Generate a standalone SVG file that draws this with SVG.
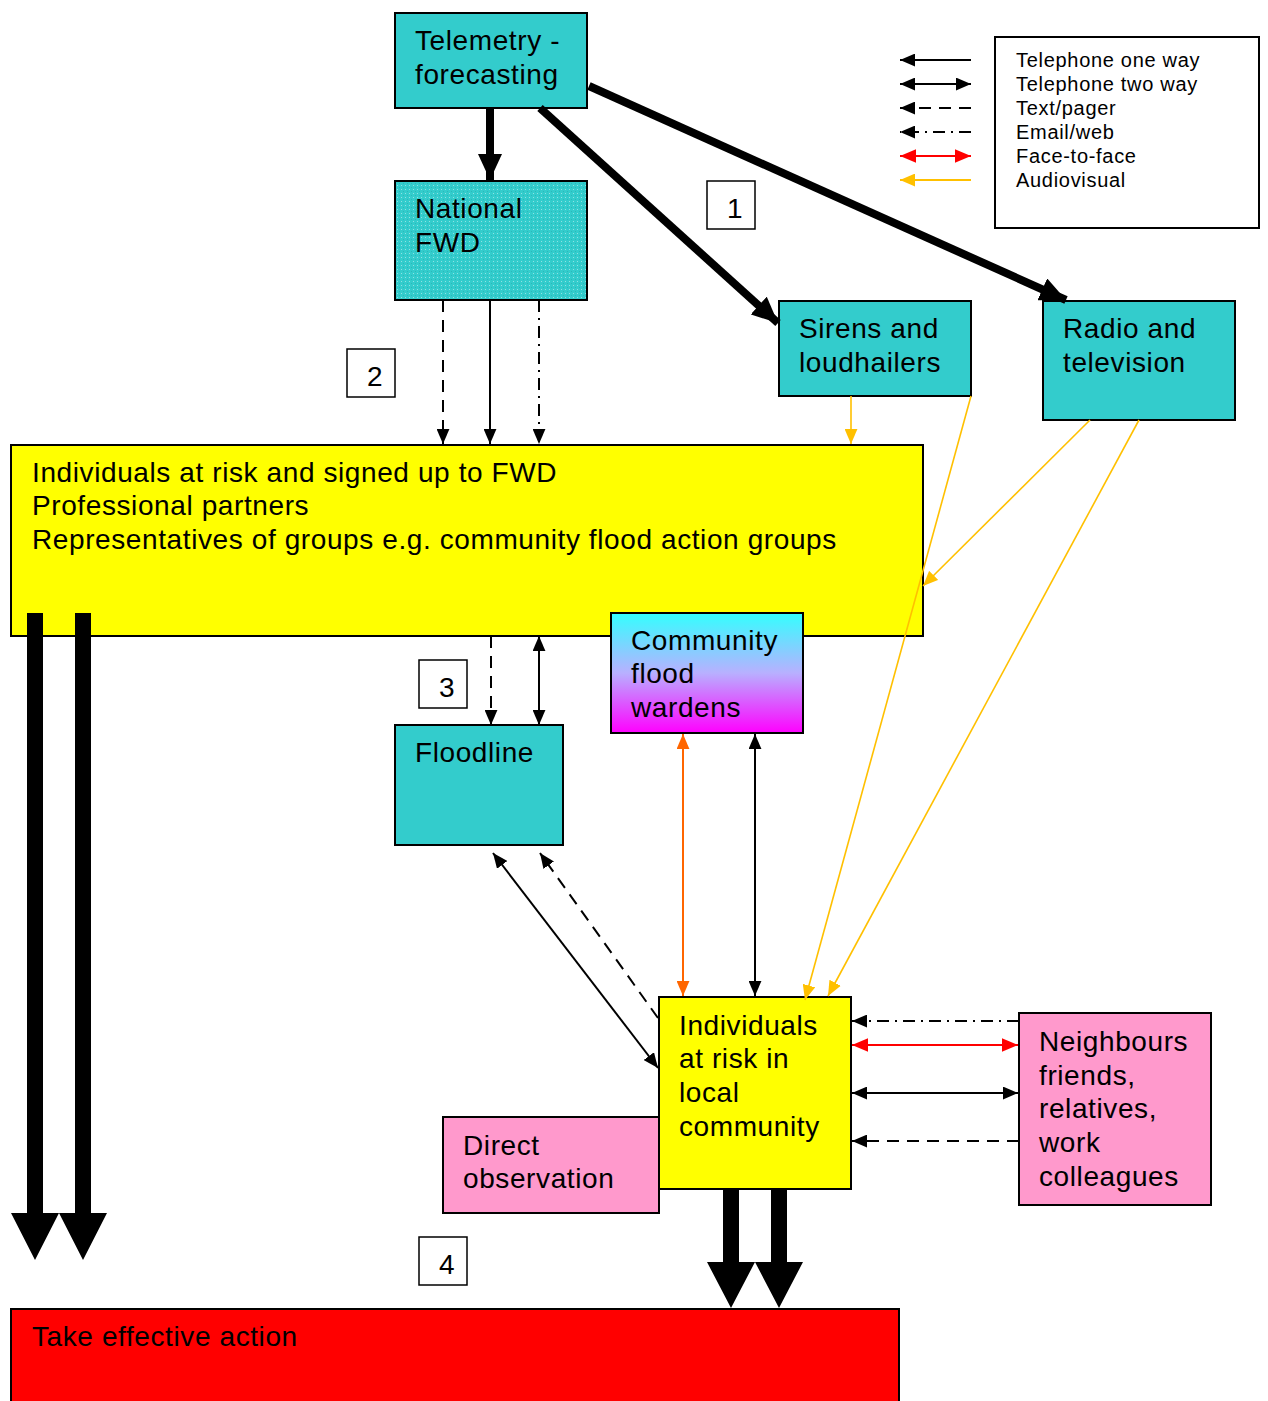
<svg xmlns="http://www.w3.org/2000/svg" width="1268" height="1401" viewBox="0 0 1268 1401">
<style>
text{font-family:"Liberation Sans",Arial,sans-serif;fill:#000}
.t{font-size:28px;letter-spacing:0.6px}
.lg{font-size:20px;letter-spacing:0.7px}
.box{stroke:#000;stroke-width:2}
.teal{fill:#33CCCC}
.yel{fill:#FFFF00}
.pink{fill:#FF99CC}
.num{fill:#fff;stroke:#000;stroke-width:1.5}
.ln{fill:none;stroke:#000;stroke-width:2}
.dash{stroke-dasharray:12,8}
.dd{stroke-dasharray:12,6,2,6}
.thick{fill:none;stroke:#000;stroke-width:8}
.av{fill:none;stroke:#FFC000;stroke-width:1.6}
</style>
<defs>
<marker id="ah" viewBox="0 0 14 12" markerWidth="15" markerHeight="13" refX="14" refY="6" orient="auto-start-reverse" markerUnits="userSpaceOnUse"><path d="M0,0L14,6L0,12z" fill="#000"/></marker>
<marker id="ahr" viewBox="0 0 14 12" markerWidth="16" markerHeight="14" refX="14" refY="6" orient="auto-start-reverse" markerUnits="userSpaceOnUse"><path d="M0,0L14,6L0,12z" fill="#FF0000"/></marker>
<marker id="aho" viewBox="0 0 14 12" markerWidth="15" markerHeight="13" refX="14" refY="6" orient="auto-start-reverse" markerUnits="userSpaceOnUse"><path d="M0,0L14,6L0,12z" fill="#FF6600"/></marker>
<marker id="ahy" viewBox="0 0 14 12" markerWidth="15" markerHeight="13" refX="14" refY="6" orient="auto-start-reverse" markerUnits="userSpaceOnUse"><path d="M0,0L14,6L0,12z" fill="#FFC000"/></marker>
<marker id="ahb" viewBox="0 0 26 24" markerWidth="26" markerHeight="24" refX="26" refY="12" orient="auto" markerUnits="userSpaceOnUse"><path d="M0,0L26,12L0,24z" fill="#000"/></marker>
<pattern id="dots" width="4" height="4" patternUnits="userSpaceOnUse"><rect width="4" height="4" fill="#33CCCC"/><rect x="1" y="1" width="1" height="1" fill="#8FE3E3"/><rect x="3" y="3" width="1" height="1" fill="#2AB8B8"/></pattern>
<linearGradient id="grad" x1="0" y1="0" x2="0" y2="1"><stop offset="0" stop-color="#33FFFF"/><stop offset="0.5" stop-color="#B8B0FF"/><stop offset="1" stop-color="#FF00FF"/></linearGradient>
</defs>
<rect width="1268" height="1401" fill="#fff"/>

<g id="legend">
<rect x="995" y="37" width="264" height="191" fill="#fff" stroke="#000" stroke-width="2"/>
<line x1="971" y1="60" x2="900" y2="60" class="ln" marker-end="url(#ah)"/>
<line x1="900" y1="84" x2="971" y2="84" class="ln" marker-start="url(#ah)" marker-end="url(#ah)"/>
<line x1="971" y1="108" x2="900" y2="108" class="ln dash" marker-end="url(#ah)"/>
<line x1="971" y1="132" x2="900" y2="132" class="ln dd" marker-end="url(#ah)"/>
<line x1="900" y1="156" x2="971" y2="156" fill="none" stroke="#FF0000" stroke-width="2" marker-start="url(#ahr)" marker-end="url(#ahr)"/>
<line x1="971" y1="180" x2="900" y2="180" fill="none" stroke="#FFC000" stroke-width="2" marker-end="url(#ahy)"/>
<text class="lg" x="1016" y="67">Telephone one way</text>
<text class="lg" x="1016" y="91">Telephone two way</text>
<text class="lg" x="1016" y="115">Text/pager</text>
<text class="lg" x="1016" y="139">Email/web</text>
<text class="lg" x="1016" y="163">Face-to-face</text>
<text class="lg" x="1016" y="187">Audiovisual</text>
</g>

<g id="telemetry"><rect x="395" y="13" width="192" height="95" class="box teal"/><text class="t" x="415" y="50">Telemetry -</text><text class="t" x="415" y="84">forecasting</text></g>
<g id="national"><rect x="395" y="181" width="192" height="119" class="box" fill="url(#dots)"/><text class="t" x="415" y="218">National</text><text class="t" x="415" y="252">FWD</text></g>
<g id="sirens"><rect x="779" y="301" width="192" height="95" class="box teal"/><text class="t" x="799" y="338">Sirens and</text><text class="t" x="799" y="372">loudhailers</text></g>
<g id="radio"><rect x="1043" y="301" width="192" height="119" class="box teal"/><text class="t" x="1063" y="338">Radio and</text><text class="t" x="1063" y="372">television</text></g>
<g id="signedup"><rect x="11" y="445" width="912" height="191" class="box yel"/><text class="t" x="32" y="482">Individuals at risk and signed up to FWD</text><text class="t" x="32" y="515">Professional partners</text><text class="t" x="32" y="549">Representatives of groups e.g. community flood action groups</text></g>
<g id="wardens"><rect x="611" y="613" width="192" height="120" class="box" fill="url(#grad)"/><text class="t" x="631" y="650">Community</text><text class="t" x="631" y="683">flood</text><text class="t" x="631" y="717">wardens</text></g>
<g id="floodline"><rect x="395" y="725" width="168" height="120" class="box teal"/><text class="t" x="415" y="762">Floodline</text></g>
<g id="local"><rect x="659" y="997" width="192" height="192" class="box yel"/><text class="t" x="679" y="1035">Individuals</text><text class="t" x="679" y="1068">at risk in</text><text class="t" x="679" y="1102">local</text><text class="t" x="679" y="1136">community</text></g>
<g id="neighbours"><rect x="1019" y="1013" width="192" height="192" class="box pink"/><text class="t" x="1039" y="1051">Neighbours</text><text class="t" x="1039" y="1085">friends,</text><text class="t" x="1039" y="1118">relatives,</text><text class="t" x="1039" y="1152">work</text><text class="t" x="1039" y="1186">colleagues</text></g>
<g id="direct"><rect x="443" y="1117" width="216" height="96" class="box pink"/><text class="t" x="463" y="1155">Direct</text><text class="t" x="463" y="1188">observation</text></g>
<g id="action"><rect x="11" y="1309" width="888" height="100" class="box" fill="#FF0000"/><text class="t" x="32" y="1346">Take effective action</text></g>

<g id="labels">
<g id="n1"><rect x="707" y="181" width="48" height="48" class="num"/><text class="t" x="735" y="218" text-anchor="middle">1</text></g>
<g id="n2"><rect x="347" y="349" width="48" height="48" class="num"/><text class="t" x="375" y="386" text-anchor="middle">2</text></g>
<g id="n3"><rect x="419" y="660" width="48" height="48" class="num"/><text class="t" x="447" y="697" text-anchor="middle">3</text></g>
<g id="n4"><rect x="419" y="1237" width="48" height="48" class="num"/><text class="t" x="447" y="1274" text-anchor="middle">4</text></g>
</g>

<g id="connectors">
<line x1="490" y1="108" x2="490" y2="180" class="thick" marker-end="url(#ahb)"/>
<line x1="540" y1="108" x2="778" y2="323" class="thick" marker-end="url(#ahb)"/>
<line x1="589" y1="86" x2="1066" y2="300" class="thick" marker-end="url(#ahb)"/>
<line x1="443" y1="300" x2="443" y2="444" class="ln dash" marker-end="url(#ah)"/>
<line x1="490" y1="300" x2="490" y2="444" class="ln" marker-end="url(#ah)"/>
<line x1="539" y1="300" x2="539" y2="444" class="ln dd" marker-end="url(#ah)"/>
<line x1="851" y1="396" x2="851" y2="444" class="av" marker-end="url(#ahy)"/>
<line x1="971" y1="396" x2="805" y2="1000" class="av" marker-end="url(#ahy)"/>
<line x1="1090" y1="420" x2="923" y2="586" class="av" marker-end="url(#ahy)"/>
<line x1="1139" y1="420" x2="828" y2="996" class="av" marker-end="url(#ahy)"/>
<line x1="491" y1="636" x2="491" y2="725" class="ln dash" marker-end="url(#ah)"/>
<line x1="539" y1="636" x2="539" y2="725" class="ln" marker-start="url(#ah)" marker-end="url(#ah)"/>
<line x1="683" y1="734" x2="683" y2="996" fill="none" stroke="#FF6600" stroke-width="2" marker-start="url(#aho)" marker-end="url(#aho)"/>
<line x1="755" y1="734" x2="755" y2="996" class="ln" marker-start="url(#ah)" marker-end="url(#ah)"/>
<line x1="493" y1="853" x2="658" y2="1068" class="ln" marker-start="url(#ah)" marker-end="url(#ah)"/>
<line x1="658" y1="1018" x2="540" y2="853" class="ln dash" marker-end="url(#ah)"/>
<line x1="1019" y1="1021" x2="852" y2="1021" class="ln dd" marker-end="url(#ah)"/>
<line x1="852" y1="1045" x2="1018" y2="1045" fill="none" stroke="#FF0000" stroke-width="2" marker-start="url(#ahr)" marker-end="url(#ahr)"/>
<line x1="852" y1="1093" x2="1018" y2="1093" class="ln" marker-start="url(#ah)" marker-end="url(#ah)"/>
<line x1="1019" y1="1141" x2="852" y2="1141" class="ln dash" marker-end="url(#ah)"/>
<g id="bigarrows" fill="#000">
<path d="M27,613H43V1213H59L35,1260L11,1213H27Z"/>
<path d="M75,613H91V1213H107L83,1260L59,1213H75Z"/>
<path d="M723,1190H739V1262H755L731,1308L707,1262H723Z"/>
<path d="M771,1190H787V1262H803L779,1308L755,1262H771Z"/>
</g>
</g>
</svg>
